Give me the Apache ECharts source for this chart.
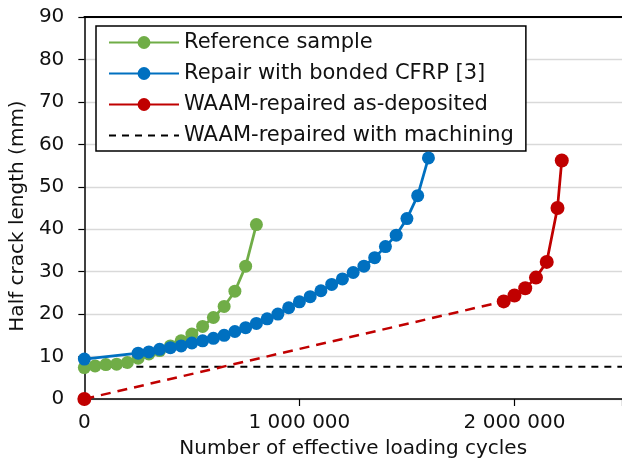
<!DOCTYPE html>
<html>
<head>
<meta charset="utf-8">
<script src="https://cdn.jsdelivr.net/npm/echarts@6/dist/echarts.min.js"></script>
<style>
  html, body { margin: 0; padding: 0; background: #fff; }
  #chart { width: 622px; height: 464px; }
</style>
</head>
<body>
<div id="chart"></div>
<script>
// ---- Data ----
const referenceCycles = [0, 50000, 100000, 150000, 200000, 250000, 300000, 350000, 400000, 450000, 500000, 550000, 600000, 650000, 700000, 750000, 800000];
const referenceCrack  = [7.4, 7.8, 8.1, 8.2, 8.6, 9.6, 10.6, 11.4, 12.5, 13.7, 15.3, 17.1, 19.2, 21.8, 25.4, 31.3, 41.1];

const cfrpCycles = [0, 250000, 300000, 350000, 400000, 450000, 500000, 550000, 600000, 650000, 700000, 750000, 800000, 850000, 900000, 950000, 1000000, 1050000, 1100000, 1150000, 1200000, 1250000, 1300000, 1350000, 1400000, 1450000, 1500000, 1550000, 1600000];
const cfrpCrack  = [9.4, 10.8, 11.1, 11.7, 12.1, 12.5, 13.2, 13.7, 14.3, 15.0, 15.9, 16.8, 17.8, 18.9, 20.0, 21.5, 22.9, 24.1, 25.5, 27.0, 28.3, 29.8, 31.3, 33.3, 35.9, 38.6, 42.5, 47.9, 56.8];

const waamCycles = [1950000, 2000000, 2050000, 2100000, 2150000, 2200000, 2220000];
const waamCrack  = [23.0, 24.4, 26.1, 28.6, 32.3, 45.0, 56.2];

// start point of the as-deposited specimen (dashed connection to first measured point)
const waamStartCycles = 0;
const waamStartCrack  = 0;

const machinedCycles = [0, 2500000];
const machinedCrack  = [7.6, 7.6];

const seriesNames = ['Reference sample', 'Repair with bonded CFRP [3]', 'WAAM-repaired as-deposited', 'WAAM-repaired with machining'];
const xTickValues = [0, 1000000, 2000000];

// ---- helpers ----
const zip = (xs, ys) => xs.map((x, i) => [x, ys[i]]);
const fmtSpace = v => String(v).replace(/\B(?=(\d{3})+(?!\d))/g, ' ');

const FONT = 'DejaVu Sans';
const TXT = '#111';
const GREEN = '#70AD47', BLUE = '#0070C0', RED = '#C00000';

const chart = echarts.init(document.getElementById('chart'), null, { renderer: 'canvas' });

const option = {
  animation: false,
  backgroundColor: '#fff',
  textStyle: { fontFamily: FONT, color: TXT },
  grid: { left: 83, top: 17, width: 541, bottom: 64, containLabel: false },
  legend: {
    data: [
      { name: seriesNames[0] },
      { name: seriesNames[1] },
      { name: seriesNames[2] },
      { name: seriesNames[3], itemStyle: { opacity: 0 } }
    ],
    orient: 'vertical',
    left: 96, top: 26,
    padding: [6, 12, 5, 12],
    itemGap: 10,
    itemWidth: 70,
    itemHeight: 16,
    backgroundColor: '#fff',
    borderColor: '#000',
    borderWidth: 1.5,
    borderRadius: 0,
    textStyle: { fontFamily: FONT, fontSize: 21, color: TXT, lineHeight: 20 }
  },
  xAxis: [{
    type: 'value',
    min: 0, max: 2500000, interval: 1000000,
    name: 'Number of effective loading cycles',
    nameLocation: 'middle',
    nameGap: 40,
    nameTextStyle: { fontFamily: FONT, fontSize: 20, color: TXT },
    axisLine: { onZero: false, lineStyle: { color: '#000', width: 1.5 } },
    axisTick: { show: true, inside: false, length: 7, lineStyle: { color: '#000', width: 1.2 } },
    axisLabel: {
      fontFamily: FONT, fontSize: 20, color: TXT, margin: 14,
      customValues: xTickValues,
      formatter: v => fmtSpace(v)
    },
    splitLine: { show: false }
  }, {
    type: 'value', position: 'top',
    min: 0, max: 2500000,
    axisLine: { show: true, onZero: false, lineStyle: { color: '#000', width: 2 } },
    axisTick: { show: false }, axisLabel: { show: false }, splitLine: { show: false }
  }],
  yAxis: {
    type: 'value',
    min: 0, max: 90, interval: 10,
    name: 'Half crack length (mm)',
    nameLocation: 'middle',
    nameGap: 50,
    nameTextStyle: { fontFamily: FONT, fontSize: 20, color: TXT, padding: [0, 16, 0, 0] },
    axisLine: { show: true, onZero: false, lineStyle: { color: '#000', width: 1.5 } },
    axisTick: { show: true, inside: false, length: 6, lineStyle: { color: '#000', width: 1.2 } },
    axisLabel: { fontFamily: FONT, fontSize: 20, color: TXT, margin: 20 },
    splitLine: { show: true, lineStyle: { color: '#D9D9D9', width: 1.3 } }
  },
  series: [
    {
      name: seriesNames[3], type: 'line',
      data: zip(machinedCycles, machinedCrack),
      showSymbol: false, symbol: 'none',
      lineStyle: { color: '#000', width: 2, type: [7, 6] },
      itemStyle: { color: '#000' },
      z: 2
    },
    {
      name: 'waam-start-link', type: 'line',
      clip: false,
      data: [
        { value: [waamStartCycles, waamStartCrack], symbol: 'circle', symbolSize: 14 },
        { value: [waamCycles[0], waamCrack[0]], symbol: 'none' }
      ],
      lineStyle: { color: RED, width: 2.5, type: [10, 7] },
      itemStyle: { color: RED },
      z: 3
    },
    {
      name: seriesNames[0], type: 'line',
      clip: false,
      data: zip(referenceCycles, referenceCrack),
      symbol: 'circle', symbolSize: 13,
      lineStyle: { color: GREEN, width: 2.75 },
      itemStyle: { color: GREEN },
      z: 4
    },
    {
      name: seriesNames[1], type: 'line',
      clip: false,
      data: zip(cfrpCycles, cfrpCrack),
      symbol: 'circle', symbolSize: 13,
      lineStyle: { color: BLUE, width: 2.75 },
      itemStyle: { color: BLUE },
      z: 5
    },
    {
      name: seriesNames[2], type: 'line',
      data: zip(waamCycles, waamCrack),
      symbol: 'circle', symbolSize: 14,
      lineStyle: { color: RED, width: 2.75 },
      itemStyle: { color: RED },
      z: 6
    }
  ]
};

chart.setOption(option);
</script>
</body>
</html>
